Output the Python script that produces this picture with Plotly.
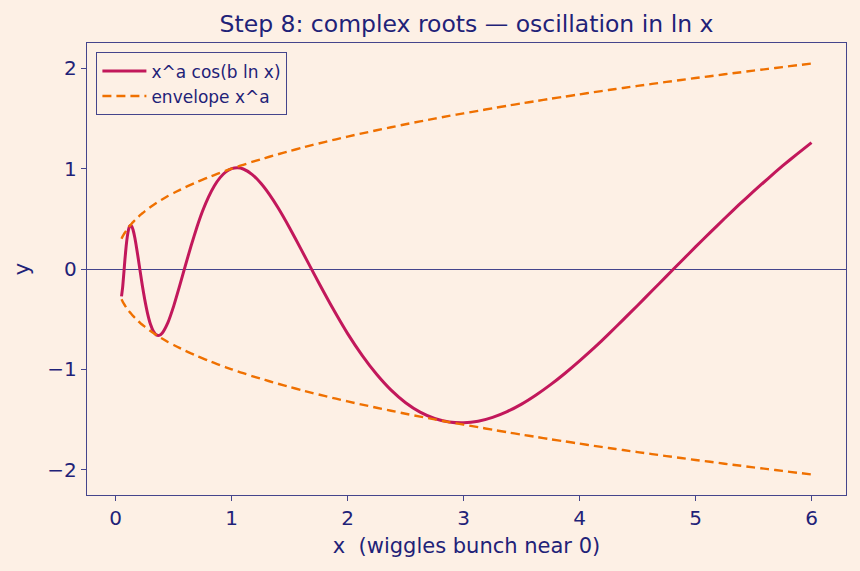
import plotly.graph_objects as go

# x sample positions
x_vals = [0.05, 0.06, 0.07, 0.08, 0.09, 0.10, 0.11, 0.12, 0.13, 0.14, 0.15, 0.165,
          0.18, 0.195, 0.21, 0.23, 0.25, 0.275, 0.30, 0.325, 0.35, 0.375, 0.40, 0.45,
          0.50, 0.55, 0.60, 0.65, 0.70, 0.75, 0.80, 0.85, 0.90, 0.95, 1.00, 1.05,
          1.10, 1.175, 1.25, 1.325, 1.40, 1.50, 1.60, 1.70, 1.80, 1.90, 2.00, 2.125,
          2.25, 2.375, 2.50, 2.625, 2.75, 2.875, 3.00, 3.125, 3.25, 3.375, 3.50, 3.625,
          3.75, 3.875, 4.00, 4.125, 4.25, 4.375, 4.50, 4.625, 4.75, 4.875, 5.00, 5.125,
          5.25, 5.375, 5.50, 5.625, 5.75, 5.875, 6.00]

# oscillating curve x^a cos(b ln x)
curve_vals = [-0.273, -0.180, -0.043, 0.100, 0.225, 0.323, 0.390, 0.427, 0.436, 0.422,
              0.389, 0.311, 0.210, 0.099, -0.016, -0.166, -0.302, -0.444, -0.551, -0.621,
              -0.657, -0.662, -0.640, -0.534, -0.370, -0.174, 0.031, 0.231, 0.416, 0.580,
              0.717, 0.828, 0.911, 0.968, 1.000, 1.009, 0.997, 0.944, 0.857, 0.744,
              0.610, 0.409, 0.193, -0.026, -0.242, -0.449, -0.644, -0.861, -1.050, -1.208,
              -1.333, -1.427, -1.490, -1.525, -1.533, -1.518, -1.479, -1.422, -1.347, -1.256,
              -1.153, -1.039, -0.916, -0.787, -0.650, -0.507, -0.364, -0.217, -0.071, 0.075,
              0.220, 0.363, 0.503, 0.641, 0.773, 0.902, 1.027, 1.146, 1.260]

# envelope x^a (upper); lower is its mirror
env_vals = [0.302, 0.325, 0.345, 0.364, 0.382, 0.398, 0.414, 0.428, 0.442, 0.456,
            0.468, 0.486, 0.504, 0.520, 0.536, 0.556, 0.574, 0.597, 0.618, 0.638,
            0.657, 0.676, 0.693, 0.727, 0.758, 0.787, 0.815, 0.842, 0.867, 0.891,
            0.915, 0.937, 0.959, 0.980, 1.000, 1.020, 1.039, 1.067, 1.093, 1.119,
            1.144, 1.176, 1.207, 1.237, 1.265, 1.293, 1.320, 1.352, 1.383, 1.413,
            1.443, 1.471, 1.499, 1.526, 1.552, 1.577, 1.602, 1.627, 1.651, 1.674,
            1.697, 1.719, 1.741, 1.763, 1.784, 1.805, 1.825, 1.845, 1.865, 1.884,
            1.904, 1.922, 1.941, 1.959, 1.978, 1.995, 2.013, 2.031, 2.048]
env_neg = [-v for v in env_vals]

x_ticks = [0, 1, 2, 3, 4, 5, 6]
y_ticks = [-2, -1, 0, 1, 2]
y_tick_text = ["−2", "−1", "0", "1", "2"]

BG = "#fdf0e5"
NAVY = "#1f2278"
SPINE = "#45458c"
CRIMSON = "#c2185b"
ORANGE = "#ef7000"
FONT = "DejaVu Sans"

fig = go.Figure()
fig.add_trace(go.Scatter(x=x_vals, y=curve_vals, mode="lines", name="x^a cos(b ln x)",
                         legendgroup="curve",
                         line=dict(color=CRIMSON, width=3, shape="spline", smoothing=0.5)))
fig.add_trace(go.Scatter(x=x_vals, y=env_vals, mode="lines", name="envelope x^a",
                         legendgroup="env",
                         line=dict(color=ORANGE, width=2.4, dash="9px,5px", shape="spline", smoothing=0.5)))
fig.add_trace(go.Scatter(x=x_vals, y=env_neg, mode="lines", name="envelope x^a",
                         legendgroup="env", showlegend=False,
                         line=dict(color=ORANGE, width=2.4, dash="9px,5px", shape="spline", smoothing=0.5)))

axis_common = dict(showline=True, linecolor=SPINE, linewidth=1.3, mirror=True,
                   ticks="outside", ticklen=5, tickwidth=1.2, tickcolor=SPINE,
                   showgrid=False, tickfont=dict(family=FONT, size=20, color=NAVY))

fig.update_layout(
    width=860, height=571,
    paper_bgcolor=BG, plot_bgcolor=BG,
    margin=dict(l=87, r=14, t=43, b=76),
    font=dict(family=FONT, color=NAVY),
    title=dict(text="Step 8: complex roots — oscillation in ln x", x=0.5, xref="paper",
               xanchor="center", y=0.958, yanchor="middle",
               font=dict(family=FONT, size=23.5, color=NAVY)),
    xaxis=dict(range=[-0.2475, 6.2975], tickvals=x_ticks, zeroline=False,
               title=dict(text="x  (wiggles bunch near 0)", standoff=9,
                          font=dict(family=FONT, size=21, color=NAVY)),
               **axis_common),
    yaxis=dict(range=[-2.253, 2.253], tickvals=y_ticks, ticktext=y_tick_text,
               zeroline=True, zerolinecolor=SPINE, zerolinewidth=1.2,
               title=dict(text="y", standoff=12,
                          font=dict(family=FONT, size=21, color=NAVY)),
               **axis_common),
    legend=dict(x=0.012, y=0.98, xanchor="left", yanchor="top",
                bgcolor=BG, bordercolor=SPINE, borderwidth=1.3,
                font=dict(family=FONT, size=17, color=NAVY),
                itemwidth=44, tracegroupgap=0),
    showlegend=True,
)

fig.write_html("out.html")
